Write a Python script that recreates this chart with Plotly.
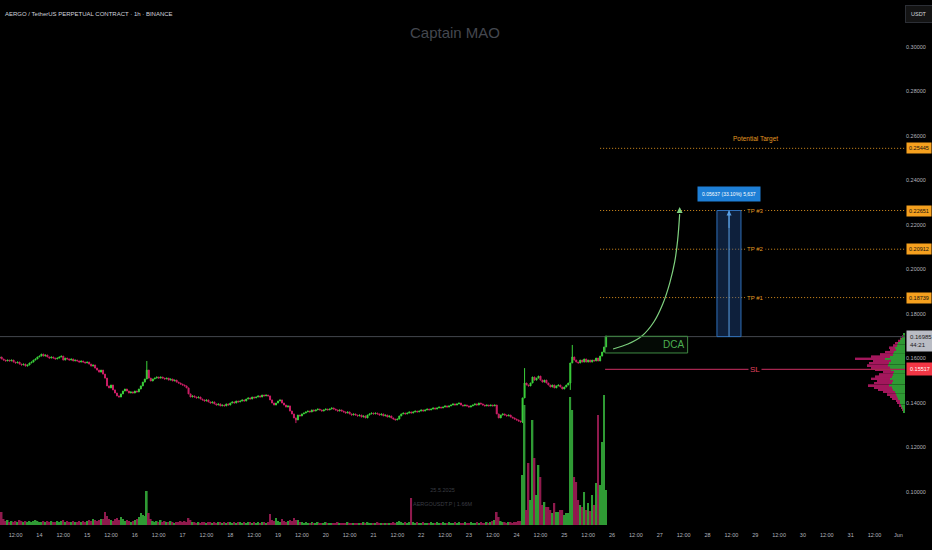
import plotly.graph_objects as go
import pandas as pd

# ---------------- data ----------------
start_time = "2025-05-13 04:00"
first_open = 0.1602
close = [
    0.1607,0.1598,0.1593,0.1589,0.1593,0.1589,0.1593,0.1584,0.1580,0.1584,0.1575,0.1571,
    0.1575,0.1566,0.1571,0.1580,0.1584,0.1593,0.1598,0.1607,0.1611,0.1620,0.1611,0.1616,
    0.1607,0.1602,0.1607,0.1602,0.1598,0.1602,0.1607,0.1611,0.1593,0.1602,0.1598,0.1593,
    0.1598,0.1589,0.1593,0.1589,0.1584,0.1589,0.1584,0.1580,0.1584,0.1575,0.1566,0.1571,
    0.1557,0.1548,0.1539,0.1548,0.1530,0.1512,0.1477,0.1468,0.1481,0.1459,0.1445,0.1432,
    0.1427,0.1441,0.1454,0.1463,0.1454,0.1445,0.1450,0.1445,0.1454,0.1450,0.1463,0.1477,
    0.1494,0.1508,0.1548,0.1512,0.1499,0.1508,0.1512,0.1517,0.1512,0.1517,0.1512,0.1508,
    0.1512,0.1503,0.1508,0.1499,0.1503,0.1494,0.1490,0.1485,0.1481,0.1477,0.1468,0.1441,
    0.1427,0.1432,0.1427,0.1423,0.1427,0.1418,0.1414,0.1409,0.1414,0.1405,0.1400,0.1405,
    0.1396,0.1391,0.1396,0.1387,0.1391,0.1387,0.1396,0.1391,0.1400,0.1405,0.1400,0.1409,
    0.1405,0.1409,0.1414,0.1409,0.1418,0.1423,0.1418,0.1427,0.1423,0.1427,0.1432,0.1427,
    0.1436,0.1432,0.1436,0.1432,0.1414,0.1400,0.1391,0.1400,0.1409,0.1414,0.1400,0.1391,
    0.1382,0.1387,0.1364,0.1351,0.1333,0.1324,0.1346,0.1342,0.1351,0.1355,0.1360,0.1364,
    0.1360,0.1369,0.1364,0.1369,0.1373,0.1369,0.1364,0.1369,0.1373,0.1369,0.1373,0.1378,
    0.1373,0.1369,0.1364,0.1369,0.1364,0.1360,0.1355,0.1360,0.1351,0.1346,0.1351,0.1346,
    0.1342,0.1346,0.1337,0.1342,0.1333,0.1346,0.1351,0.1355,0.1351,0.1355,0.1351,0.1346,
    0.1351,0.1342,0.1346,0.1337,0.1342,0.1333,0.1328,0.1324,0.1328,0.1342,0.1351,0.1355,
    0.1351,0.1355,0.1360,0.1355,0.1360,0.1364,0.1360,0.1364,0.1369,0.1364,0.1369,0.1373,
    0.1369,0.1373,0.1378,0.1373,0.1378,0.1382,0.1378,0.1382,0.1387,0.1382,0.1387,0.1391,
    0.1396,0.1391,0.1396,0.1400,0.1391,0.1387,0.1391,0.1387,0.1382,0.1387,0.1391,0.1396,
    0.1391,0.1400,0.1396,0.1391,0.1387,0.1391,0.1387,0.1391,0.1387,0.1391,0.1351,0.1333,
    0.1346,0.1351,0.1346,0.1342,0.1346,0.1337,0.1333,0.1328,0.1324,0.1319,0.1315,0.1423,
    0.1490,0.1481,0.1477,0.1490,0.1517,0.1503,0.1512,0.1521,0.1503,0.1494,0.1503,0.1490,
    0.1481,0.1472,0.1481,0.1468,0.1477,0.1481,0.1472,0.1463,0.1472,0.1481,0.1490,0.1580,
    0.1607,0.1593,0.1584,0.1580,0.1593,0.1584,0.1598,0.1584,0.1593,0.1584,0.1593,0.1589,
    0.1602,0.1589,0.1611,0.1629,0.1652,0.16985,
]
volume = [
    8,13,6,4,5,3,4,3,4,3,5,4,
    3,4,3,4,3,4,5,4,3,3,4,3,
    4,3,4,3,3,4,3,4,5,3,4,3,
    3,4,3,3,4,3,4,3,4,5,4,6,
    5,4,5,6,6,13,9,6,5,4,6,7,
    5,8,6,4,5,4,3,4,5,6,8,12,
    10,9,34,12,6,4,3,4,3,5,3,4,
    3,3,4,3,2,3,3,4,3,4,3,7,
    5,3,3,2,3,2,3,3,2,3,3,2,
    3,2,3,3,2,3,2,3,3,2,3,2,
    3,3,2,3,2,3,3,2,3,2,3,2,
    3,3,2,3,11,5,4,7,4,3,6,4,
    3,4,5,4,7,5,5,3,3,2,3,2,
    2,3,2,2,3,2,2,2,3,2,2,2,
    2,2,3,2,2,2,2,3,2,2,2,2,
    2,2,2,3,2,3,2,2,2,2,3,2,
    2,2,2,2,2,2,3,2,3,4,3,2,
    3,2,3,27,3,2,3,2,2,3,2,2,
    2,3,2,2,3,2,2,3,2,2,3,2,
    2,3,2,3,2,2,3,2,2,3,2,2,
    3,2,3,2,2,3,2,3,4,5,13,8,
    4,3,3,2,3,3,2,3,3,4,4,50,
    120,15,62,25,105,67,30,60,48,20,23,18,
    18,15,12,22,13,13,15,15,10,12,12,128,
    115,48,43,25,20,18,33,15,22,14,30,20,
    42,110,40,83,130,35,
]
wick_high = {74: 0.1589, 264: 0.1557, 288: 0.1661, 305: 0.1703}
wick_low = {149: 0.1310, 263: 0.1310, 287: 0.1459}

# visible-range volume profile
profile_price = [0.171,0.170,0.169,0.168,0.167,0.166,0.165,0.164,0.163,0.162,0.161,0.160,
                 0.159,0.158,0.157,0.156,0.155,0.154,0.153,0.152,0.151,0.150,0.149,0.148,
                 0.147,0.146,0.145,0.144,0.143,0.142,0.141,0.140,0.139,0.138,0.137,0.136]
profile_up = [2,2,4,5,7,8,10,9,11,12,15,20,14,16,17,15,14,11,12,13,15,12,13,16,
              13,12,10,9,8,7,5,5,4,3,2,2]
profile_down = [0,1,1,2,3,4,6,6,9,13,19,30,18,20,21,19,16,11,14,17,19,16,18,21,
                18,15,12,9,7,6,4,3,2,1,1,0]

# axis ticks
price_ticks = [0.10, 0.12, 0.14, 0.16, 0.18, 0.20, 0.22, 0.24, 0.26, 0.28, 0.30]
price_tick_labels = ["0.10000", "0.12000", "0.14000", "0.16000", "0.18000", "0.20000",
                     "0.22000", "0.24000", "0.26000", "0.28000", "0.30000"]
time_ticks = pd.date_range("2025-05-13 12:00", "2025-06-01 00:00", freq="12h")
time_tick_labels = ["12:00", "14", "12:00", "15", "12:00", "16", "12:00", "17", "12:00", "18",
                    "12:00", "19", "12:00", "20", "12:00", "21", "12:00", "22", "12:00", "23",
                    "12:00", "24", "12:00", "25", "12:00", "26", "12:00", "27", "12:00", "28",
                    "12:00", "29", "12:00", "30", "12:00", "31", "12:00", "Jun"]

# drawing levels
target_levels = [0.25445, 0.22651, 0.20912, 0.18739]
target_names = ["Potential Target", "TP #3", "TP #2", "TP #1"]
last_price = 0.16985
stop_loss = 0.15517
dca_low, dca_high = 0.1625, 0.1700
measure_text = "0.05637 (33.10%) 5,637"
arrow_t = ["2025-05-26 00:30", "2025-05-26 08:00", "2025-05-26 15:00", "2025-05-26 21:00",
           "2025-05-27 01:30", "2025-05-27 05:00", "2025-05-27 07:30", "2025-05-27 09:00",
           "2025-05-27 10:00"]
arrow_p = [0.1643, 0.1665, 0.1701, 0.1764, 0.1845, 0.1939, 0.2034, 0.2133, 0.2249]

x_start, x_end = "2025-05-13 04:10", "2025-06-01 03:20"
lvl_start = "2025-05-25 18:00"
sl_start = "2025-05-25 20:30"
dca_t0, dca_t1 = "2025-05-25 20:30", "2025-05-27 14:00"
meas_t0, meas_t1, meas_tc = "2025-05-28 04:45", "2025-05-28 16:50", "2025-05-28 10:50"
label_t = "2025-05-29 00:00"

# ---------------- build ----------------
times = pd.date_range(start_time, periods=len(close), freq="h")
opens = [first_open] + close[:-1]
highs = [wick_high.get(i, max(o, c)) for i, (o, c) in enumerate(zip(opens, close))]
lows = [wick_low.get(i, min(o, c)) for i, (o, c) in enumerate(zip(opens, close))]
UP, DN = "#3bd13b", "#cc1f66"
VUP, VDN = "#2f9a34", "#8f1a4d"
vol_colors = [VUP if c >= o else VDN for o, c in zip(opens, close)]

FONT = "Liberation Sans, Arial, sans-serif"
AX = "#b2b5be"

fig = go.Figure()
fig.add_trace(go.Bar(x=times, y=volume, marker=dict(color=vol_colors, line=dict(width=0)),
                     width=3.0e6, yaxis="y2", hoverinfo="skip"))
fig.add_trace(go.Bar(y=profile_price, x=profile_up, base=0, orientation="h", width=0.00085,
                     marker=dict(color="#2f9a34", line=dict(width=0)), xaxis="x3", yaxis="y"))
fig.add_trace(go.Bar(y=profile_price, x=profile_down, base=profile_up, orientation="h",
                     width=0.00085, marker=dict(color="#a3175c", line=dict(width=0)),
                     xaxis="x3", yaxis="y"))
fig.add_trace(go.Candlestick(x=times, open=opens, high=highs, low=lows, close=close,
                             increasing=dict(line=dict(color=UP, width=1), fillcolor=UP),
                             decreasing=dict(line=dict(color=DN, width=1), fillcolor=DN),
                             whiskerwidth=0))
fig.add_trace(go.Scatter(x=arrow_t, y=arrow_p, mode="lines",
                         line=dict(color="#7fd17f", width=1.2, shape="spline"), hoverinfo="skip"))

shapes = []
shapes.append(dict(type="line", xref="x", yref="y", x0=x_start, x1=x_end, y0=last_price,
                   y1=last_price, line=dict(color="#44474e", width=1)))
for lv in target_levels:
    shapes.append(dict(type="line", xref="x", yref="y", x0=lvl_start, x1=x_end, y0=lv, y1=lv,
                       line=dict(color="#d98f1f", width=1, dash="1px,2px")))
shapes.append(dict(type="line", xref="x", yref="y", x0=sl_start, x1=x_end, y0=stop_loss,
                   y1=stop_loss, line=dict(color="#a5264f", width=1.2)))
shapes.append(dict(type="rect", xref="x", yref="y", x0=dca_t0, x1=dca_t1, y0=dca_low,
                   y1=dca_high, line=dict(color="#3f8a42", width=1),
                   fillcolor="rgba(76,175,80,0.06)"))
shapes.append(dict(type="rect", xref="x", yref="y", x0=meas_t0, x1=meas_t1, y0=last_price,
                   y1=target_levels[1], line=dict(color="#2f6fb8", width=1),
                   fillcolor="rgba(35,80,150,0.40)"))
shapes.append(dict(type="line", xref="x", yref="y", x0=meas_tc, x1=meas_tc, y0=last_price,
                   y1=target_levels[1], line=dict(color="#5aa0e6", width=1)))

ann = []
ann.append(dict(text="AERGO / TetherUS PERPETUAL CONTRACT · 1h · BINANCE", xref="paper",
                yref="paper", x=0, y=1, xanchor="left", yanchor="top", xshift=3, yshift=-9,
                showarrow=False, font=dict(family=FONT, size=6, color="#d1d4dc")))
ann.append(dict(text="Captain MAO", xref="paper", yref="paper", x=0.503, y=1, xanchor="center",
                yanchor="top", yshift=-22, showarrow=False,
                font=dict(family=FONT, size=15, color="#44474f")))
ann.append(dict(text="USDT", xref="paper", yref="paper", x=1, y=1, xanchor="left", yanchor="top",
                xshift=0, yshift=-5, showarrow=False, bgcolor="#141414", bordercolor="#2c2f36",
                borderwidth=1, borderpad=5, font=dict(family=FONT, size=5.5, color="#d1d4dc")))
for lv, nm in zip(target_levels, target_names):
    if nm == "Potential Target":
        ann.append(dict(text=nm, x=label_t, y=lv, xref="x", yref="y", yshift=9, showarrow=False,
                        font=dict(family=FONT, size=6.5, color="#e39a22")))
    else:
        ann.append(dict(text=nm, x=label_t, y=lv, xref="x", yref="y", showarrow=False,
                        bgcolor="#000000", borderpad=1,
                        font=dict(family=FONT, size=6, color="#e39a22")))
    ann.append(dict(text=f"{lv:.5f}", xref="paper", yref="y", x=1, y=lv, xanchor="left",
                    xshift=1, showarrow=False, bgcolor="#f5a01e", borderpad=2,
                    font=dict(family=FONT, size=5.5, color="#111111")))
ann.append(dict(text="SL", x=label_t, y=stop_loss, xref="x", yref="y", showarrow=False,
                bgcolor="#000000", borderpad=1, font=dict(family=FONT, size=8, color="#e0405e")))
ann.append(dict(text="DCA", x=dca_t1, y=(dca_low + dca_high) / 2, xref="x", yref="y",
                xanchor="right", xshift=-2, showarrow=False,
                font=dict(family=FONT, size=10, color="#4caf50")))
ann.append(dict(text=f"{last_price:.5f}<br>44:21", xref="paper", yref="y", x=1, y=last_price,
                xanchor="left", yanchor="top", xshift=1, yshift=7, showarrow=False,
                bgcolor="#b9bcc4", borderpad=3, align="left",
                font=dict(family=FONT, size=6, color="#1a1a1a")))
ann.append(dict(text=f"{stop_loss:.5f}", xref="paper", yref="y", x=1, y=stop_loss,
                xanchor="left", xshift=1, showarrow=False, bgcolor="#f23645", borderpad=3,
                font=dict(family=FONT, size=5.5, color="#ffffff")))
ann.append(dict(text=measure_text, x=meas_tc, y=target_levels[1], xref="x", yref="y",
                yanchor="bottom", yshift=9, showarrow=False, bgcolor="#1e7fd6", borderpad=4,
                font=dict(family=FONT, size=5, color="#ffffff")))
ann.append(dict(x=meas_tc, y=target_levels[1], ax=meas_tc, ay=0.2180, xref="x", yref="y",
                axref="x", ayref="y", text="", showarrow=True, arrowhead=2, arrowsize=1,
                arrowwidth=1, arrowcolor="#5aa0e6"))
ann.append(dict(x="2025-05-27 10:00", y=0.2281, ax=arrow_t[-1], ay=arrow_p[-1], xref="x",
                yref="y", axref="x", ayref="y", text="", showarrow=True, arrowhead=2,
                arrowsize=1, arrowwidth=1.2, arrowcolor="#7fd17f"))
ann.append(dict(text="25.5.2025<br><br>AERGOUSDT.P | 1.66M", xref="x", yref="paper",
                x="2025-05-22 11:00", y=0, yanchor="bottom", yshift=16, showarrow=False,
                font=dict(family=FONT, size=5.5, color="#3a3d44")))

fig.update_layout(
    width=932, height=550, margin=dict(l=0, r=27, t=0, b=25),
    paper_bgcolor="#000000", plot_bgcolor="#000000", showlegend=False,
    barmode="overlay", shapes=shapes, annotations=ann,
    xaxis=dict(type="date", range=[x_start, x_end], tickvals=list(time_ticks),
               ticktext=time_tick_labels, showgrid=False, zeroline=False, showline=False,
               ticks="", rangeslider=dict(visible=False), fixedrange=True,
               ticklabelstandoff=5,
               tickfont=dict(family=FONT, size=5.5, color=AX)),
    yaxis=dict(side="right", range=[0.0852, 0.3211], tickvals=price_ticks,
               ticktext=price_tick_labels, showgrid=False, zeroline=False, showline=False,
               ticks="", fixedrange=True, tickfont=dict(family=FONT, size=5.5, color=AX)),
    yaxis2=dict(overlaying="y", range=[0, 525], visible=False, fixedrange=True),
    xaxis3=dict(overlaying="x", range=[905, 0], visible=False, fixedrange=True),
)

fig.write_html("out.html", config={"displayModeBar": False},
               post_script="document.body.style.margin='0';document.body.style.padding='0';"
                           "document.body.style.overflow='hidden';")
